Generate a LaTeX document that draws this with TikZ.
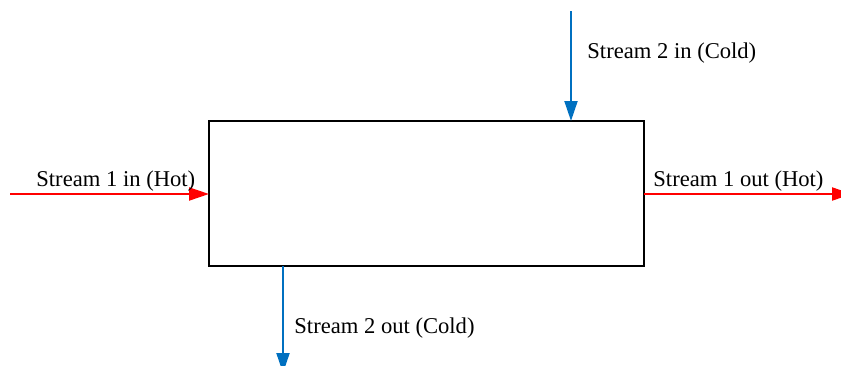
\documentclass[tikz,border=0pt]{standalone}
\usepackage{fontspec}
\setmainfont{Liberation Serif}
\usetikzlibrary{arrows.meta}
\definecolor{hotred}{RGB}{255,0,0}
\definecolor{coldblue}{RGB}{0,112,192}
\begin{document}
\begin{tikzpicture}[x=0.5pt,y=-0.5pt,
  exbox/.style={draw=black,line width=1pt,minimum width=217.5pt,minimum height=72.5pt,inner sep=0pt,outer sep=0pt},
  hotflow/.style={draw=hotred,line width=1pt,-{Triangle[length=10pt,width=6.5pt]}},
  coldflow/.style={draw=coldblue,line width=1pt,-{Triangle[length=10pt,width=6.5pt]}},
  lbl/.style={anchor=base west,inner sep=0pt,font=\fontsize{11.3}{13}\selectfont}]
\useasboundingbox (0,0) rectangle (841,365);
\node[exbox] (hx) at (426.5,193.5) {};
\coordinate (s1in) at (10,194);
\coordinate (s1out) at (852,194);
\coordinate (s2in) at (571,11);
\coordinate (s2out) at (283,373);
\draw[hotflow] (s1in) -- (hx.west |- s1in);
\draw[hotflow] (hx.east |- s1out) -- (s1out);
\draw[coldflow] (s2in) -- (s2in |- hx.north);
\draw[coldflow] (s2out |- hx.south) -- (s2out);
\node[lbl] (t1in) at (36,186.5) {Stream 1 in (Hot)};
\node[lbl] (t1out) at (653,186.5) {Stream 1 out (Hot)};
\node[lbl] (t2in) at (587,58) {Stream 2 in (Cold)};
\node[lbl] (t2out) at (294,333) {Stream 2 out (Cold)};
\end{tikzpicture}
\end{document}
